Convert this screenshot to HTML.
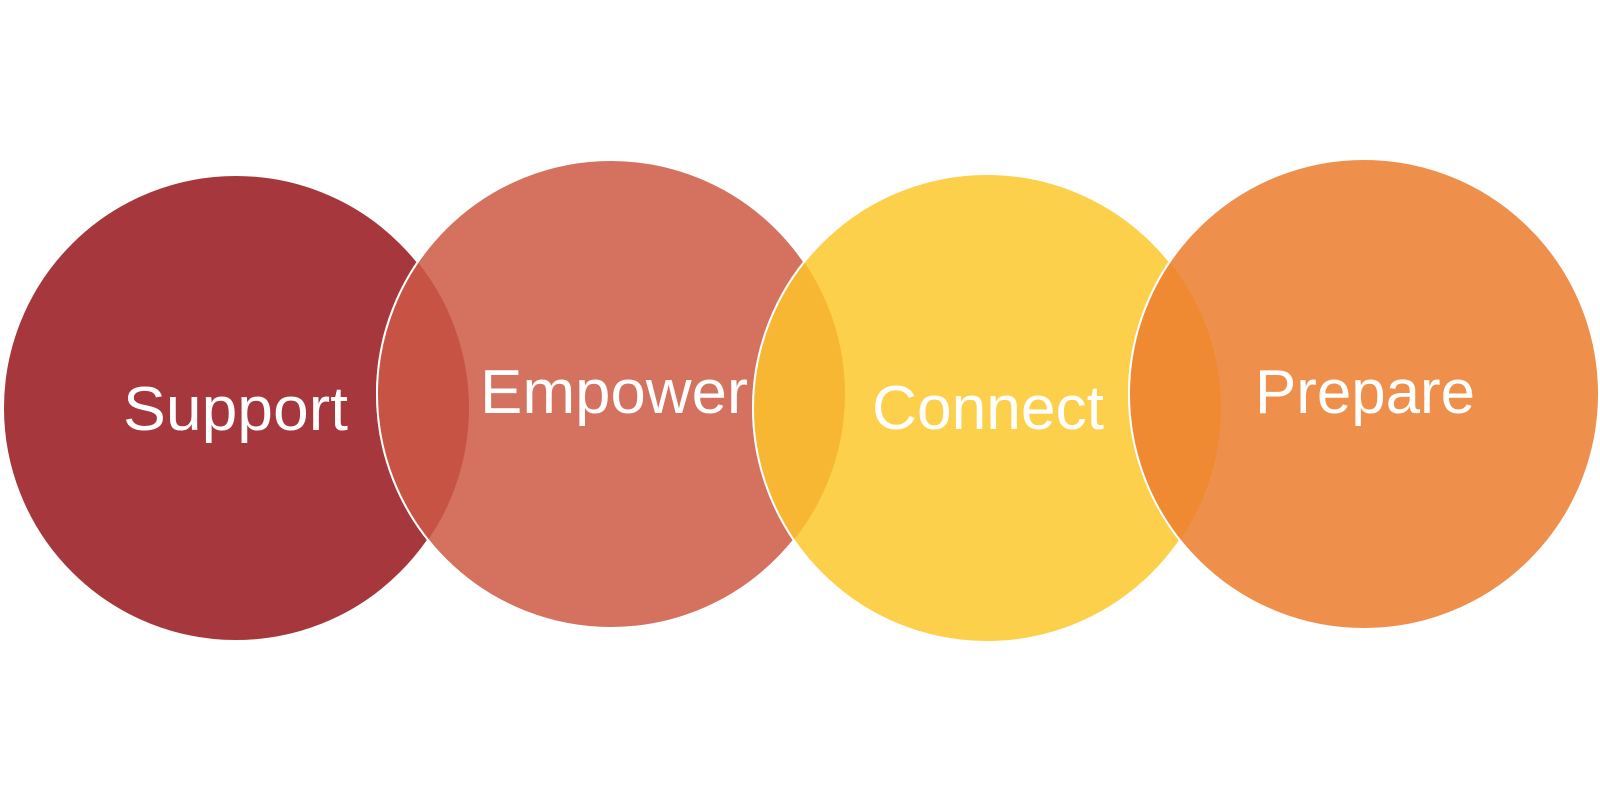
<!DOCTYPE html>
<html><head><meta charset="utf-8"><style>
html,body{margin:0;padding:0;background:#fff;}
svg{display:block;}
</style></head><body>
<svg width="1600" height="790" viewBox="0 0 1600 790" xmlns="http://www.w3.org/2000/svg">
<defs>
<clipPath id="k1"><circle cx="236" cy="408" r="233"/></clipPath>
<clipPath id="k2"><circle cx="611" cy="394" r="234"/></clipPath>
<clipPath id="k3"><circle cx="987" cy="408" r="234"/></clipPath>
</defs>
<circle cx="236" cy="408" r="233" fill="#A5373D" stroke="#fff" stroke-width="2"/>
<circle cx="611" cy="394" r="234" fill="#D4715F" stroke="#fff" stroke-width="2"/>
<circle cx="987" cy="408" r="234" fill="#FDD04B" stroke="#fff" stroke-width="2"/>
<circle cx="1364" cy="394" r="235" fill="#EF8F4C" stroke="#fff" stroke-width="2"/>
<circle cx="611" cy="394" r="234" fill="#C65343" clip-path="url(#k1)" stroke="#fff" stroke-width="2"/>
<circle cx="987" cy="408" r="234" fill="#F7B733" clip-path="url(#k2)" stroke="#fff" stroke-width="2"/>
<circle cx="1364" cy="394" r="235" fill="#EF8A33" clip-path="url(#k3)" stroke="#fff" stroke-width="2"/>
<g fill="#fff" font-family="Liberation Sans, sans-serif" font-size="62">
<text x="123" y="430" textLength="225" lengthAdjust="spacingAndGlyphs">Support</text>
<text x="480" y="413" textLength="268" lengthAdjust="spacingAndGlyphs">Empower</text>
<text x="872" y="429" textLength="232" lengthAdjust="spacingAndGlyphs">Connect</text>
<text x="1255" y="413" textLength="220" lengthAdjust="spacingAndGlyphs">Prepare</text>
</g>
</svg>
</body></html>
